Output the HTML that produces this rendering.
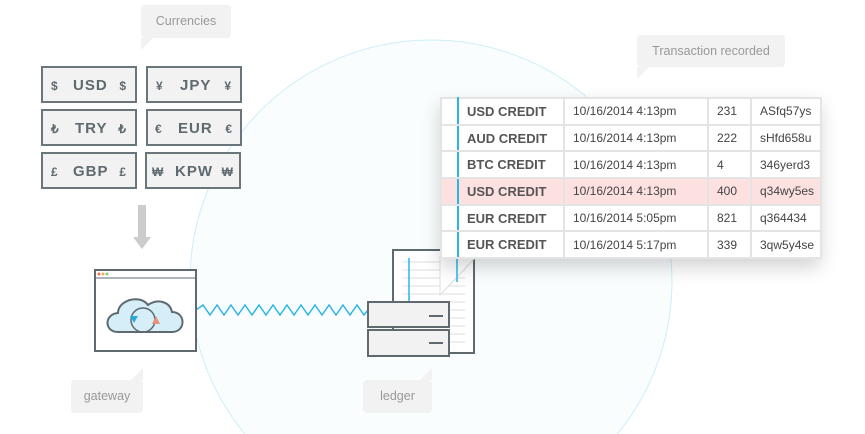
<!DOCTYPE html>
<html style="overflow:hidden"><head><style>
html,body{margin:0;width:865px;height:434px;overflow:hidden}
body{background:#fff;font-family:"Liberation Sans",sans-serif;position:relative}
.ab{position:absolute}
.bub{position:absolute;background:#f2f2f2;color:#999;font-size:12.5px;border-radius:4px;text-align:center}
.bill{position:absolute;width:96px;height:37px;border:2px solid #6b767c;background:#f2f2f2;box-sizing:border-box;color:#5e6a70;font-weight:bold;font-size:15px;letter-spacing:1px}
.bill span{position:absolute;top:9px}
.bill .s{font-size:12px;top:11px}
table{border-collapse:collapse;font-size:12px;color:#444;table-layout:fixed;width:380px}
td{border:2px solid #e4e4e4;height:23px;padding:0 0 0 8px;white-space:nowrap;overflow:hidden}
tr{height:26.7px}
td.b{font-weight:bold;font-size:13px;color:#555}
tr.p td{background:#fde0e0}
</style></head><body>
<svg class="ab" style="left:0;top:0;display:block" width="865" height="434">
<circle cx="431" cy="281" r="241" fill="#fafdfe" stroke="#cdeef8" stroke-width="1"/>
<rect x="138" y="205" width="8" height="32" fill="#ccc"/>
<polygon points="133,237 151,237 142,249" fill="#ccc"/>
<polyline points="196,310 203,305 210,315 217,305 224,315 231,305 238,315 245,305 252,315 259,305 266,315 273,305 280,315 287,305 294,315 301,305 308,315 315,305 322,315 329,305 336,315 343,305 350,315 357,305 364,315 368,310" fill="none" stroke="#29b6e3" stroke-width="1.5"/>
<rect x="95" y="270" width="101" height="81" fill="#fff" stroke="#5e6a70" stroke-width="2"/>
<line x1="95" y1="278" x2="196" y2="278" stroke="#5e6a70"/>
<circle cx="99" cy="274" r="1.5" fill="#f07050"/><circle cx="103" cy="274" r="1.5" fill="#f0b050"/><circle cx="107" cy="274" r="1.5" fill="#8c8"/>
<path d="M118,332 C104,332 104,314 118,313 C118,300 140,294 148,305 C158,298 170,302 172,312 C186,312 186,332 172,332 Z" fill="#d6eef8" stroke="#5e6a70" stroke-width="2"/>
<circle cx="143" cy="320" r="12" fill="none" stroke="#5e6a70" stroke-width="1.5"/>
<polygon points="130,316 138,316 134,323" fill="#29a9dc"/><polygon points="152,324 160,324 156,316" fill="#e8907a"/>
<rect x="393" y="250" width="81" height="103" fill="#fff" stroke="#5e6a70" stroke-width="2"/>
<g stroke="#ddd"><line x1="403" y1="262" x2="465" y2="262"/><line x1="403" y1="270" x2="465" y2="270"/><line x1="403" y1="278" x2="465" y2="278"/><line x1="403" y1="286" x2="465" y2="286"/><line x1="403" y1="294" x2="465" y2="294"/><line x1="403" y1="302" x2="465" y2="302"/><line x1="403" y1="310" x2="465" y2="310"/><line x1="403" y1="318" x2="465" y2="318"/><line x1="403" y1="326" x2="465" y2="326"/><line x1="403" y1="334" x2="465" y2="334"/><line x1="403" y1="342" x2="465" y2="342"/></g>
<line x1="409" y1="258" x2="409" y2="303" stroke="#29b6e3" stroke-width="1.5"/>
<rect x="368" y="302" width="81" height="25" fill="#f2f2f2" stroke="#5e6a70" stroke-width="2"/>
<line x1="429" y1="316" x2="443" y2="316" stroke="#5e6a70" stroke-width="2"/>
<rect x="368" y="330" width="81" height="26" fill="#f2f2f2" stroke="#5e6a70" stroke-width="2"/>
<line x1="429" y1="343" x2="443" y2="343" stroke="#5e6a70" stroke-width="2"/>
<polygon points="440,257 476,257 440,295" fill="#fff" stroke="#ddd"/>
<line x1="457" y1="257" x2="457" y2="282" stroke="#29b6e3" stroke-width="1.5"/>
<polygon points="141,38 141,50 153,38" fill="#f2f2f2"/>
<polygon points="637,67 637,79 649,67" fill="#f2f2f2"/>
<polygon points="131,380 143,368 143,380" fill="#f2f2f2"/>
<polygon points="420,380 432,368 432,380" fill="#f2f2f2"/>
</svg>
<div class="bub" style="left:141px;top:5px;width:90px;height:33px;line-height:33px">Currencies</div>
<div class="bub" style="left:637px;top:35px;width:148px;height:32px;line-height:32px">Transaction recorded</div>
<div class="bub" style="left:71px;top:380px;width:72px;height:33px;line-height:33px">gateway</div>
<div class="bub" style="left:363px;top:380px;width:69px;height:33px;line-height:33px">ledger</div>
<div class="bill" style="left:41px;top:66px"><span class="s" style="left:8px">$</span><span style="left:30px">USD</span><span class="s" style="right:8px">$</span></div>
<div class="bill" style="left:146px;top:66px"><span class="s" style="left:8px">¥</span><span style="left:32px">JPY</span><span class="s" style="right:8px">¥</span></div>
<div class="bill" style="left:41px;top:109px"><span class="s" style="left:8px">₺</span><span style="left:32px">TRY</span><span class="s" style="right:8px">₺</span></div>
<div class="bill" style="left:146px;top:109px"><span class="s" style="left:7px">€</span><span style="left:30px">EUR</span><span class="s" style="right:7px">€</span></div>
<div class="bill" style="left:41px;top:152px"><span class="s" style="left:8px">£</span><span style="left:30px">GBP</span><span class="s" style="right:8px">£</span></div>
<div class="bill" style="left:145px;top:152px"><span class="s" style="left:5px">₩</span><span style="left:28px">KPW</span><span class="s" style="right:5px">₩</span></div>
<div class="ab" style="left:440px;top:97px;width:380px;background:#fff;box-shadow:0 8px 18px rgba(0,0,0,.18)">
<table>
<colgroup><col style="width:17px"><col style="width:106px"><col style="width:144px"><col style="width:43px"><col style="width:70px"></colgroup>
<tr><td style="border-right:2px solid #29b6e3"></td><td class="b">USD CREDIT</td><td>10/16/2014 4:13pm</td><td>231</td><td>ASfq57ys</td></tr>
<tr><td style="border-right:2px solid #29b6e3"></td><td class="b">AUD CREDIT</td><td>10/16/2014 4:13pm</td><td>222</td><td>sHfd658u</td></tr>
<tr><td style="border-right:2px solid #29b6e3"></td><td class="b">BTC CREDIT</td><td>10/16/2014 4:13pm</td><td>4</td><td>346yerd3</td></tr>
<tr class="p"><td style="border-right:2px solid #29b6e3"></td><td class="b">USD CREDIT</td><td>10/16/2014 4:13pm</td><td>400</td><td>q34wy5es</td></tr>
<tr><td style="border-right:2px solid #29b6e3"></td><td class="b">EUR CREDIT</td><td>10/16/2014 5:05pm</td><td>821</td><td>q364434</td></tr>
<tr><td style="border-right:2px solid #29b6e3"></td><td class="b">EUR CREDIT</td><td>10/16/2014 5:17pm</td><td>339</td><td>3qw5y4se</td></tr>
</table></div>
</body></html>
